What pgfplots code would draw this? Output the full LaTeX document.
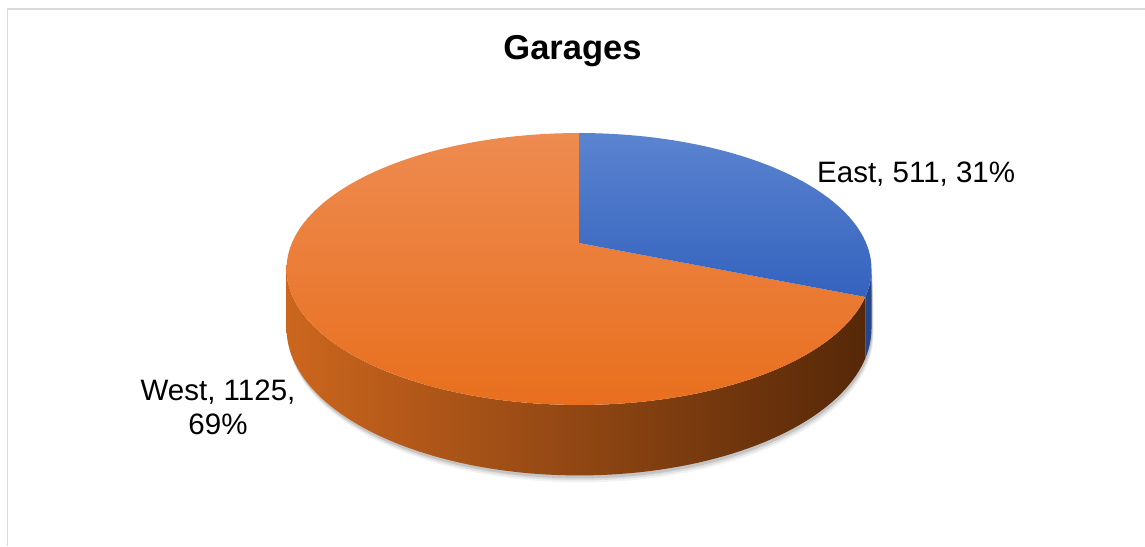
\documentclass[border=0pt]{standalone}
\usepackage{pgfplots}
\pgfplotsset{compat=1.18}
\usepackage{fontspec}
\setmainfont{Liberation Sans}
\definecolor{frame}{HTML}{D9D9D9}
\definecolor{wTopA}{HTML}{EE8B50}
\definecolor{wTopB}{HTML}{E86F1E}
\definecolor{eTopA}{HTML}{5B84D0}
\definecolor{eTopB}{HTML}{3462BE}
\definecolor{wSideL}{HTML}{CC661E}
\definecolor{wSideM}{HTML}{7E3F10}
\definecolor{wSideR}{HTML}{562808}
\definecolor{eSide}{HTML}{25468A}
% data
\def\EastVal{511}
\def\WestVal{1125}
\pgfmathsetmacro{\thE}{360*(\EastVal/(\EastVal+\WestVal))}
\pgfmathsetmacro{\kp}{0.1912}
\pgfmathsetmacro{\thT}{acos(-\kp)}
\pgfmathsetmacro{\thTT}{360-\thT}
\begin{document}
\begin{tikzpicture}[declare function={
    pw(\t)=1+0.1912*cos(\t);
    px(\t)=579+287.1*sin(\t)/pw(\t);
    py(\t)=243-131*cos(\t)/pw(\t);
    pd(\t)=57/pw(\t);
  }]
\begin{axis}[scale only axis, width=1145pt, height=546pt,
  xmin=0, xmax=1145, ymin=0, ymax=546, y dir=reverse,
  hide axis, clip=false]
% frame
\draw[frame, line width=1.5pt] (7.5,546) -- (7.5,9) -- (1145,9);
% shadow
\fill[black, opacity=0.05] plot[domain=\thT:\thTT, samples=90, variable=\t] ({px(\t)+2},{py(\t)+pd(\t)+7})
   -- plot[domain=\thTT:\thT, samples=90, variable=\t] ({px(\t)+2},{py(\t)+7}) -- cycle;
\fill[black, opacity=0.08] plot[domain=\thT:\thTT, samples=90, variable=\t] ({px(\t)+1.5},{py(\t)+pd(\t)+5})
   -- plot[domain=\thTT:\thT, samples=90, variable=\t] ({px(\t)+1.5},{py(\t)+5}) -- cycle;
\fill[black, opacity=0.12] plot[domain=\thT:\thTT, samples=90, variable=\t] ({px(\t)+1},{py(\t)+pd(\t)+3})
   -- plot[domain=\thTT:\thT, samples=90, variable=\t] ({px(\t)+1},{py(\t)+3}) -- cycle;
% sides
\shade[left color=wSideL, middle color=wSideM, right color=wSideR]
  plot[domain=\thE:\thTT, samples=90, variable=\t] ({px(\t)},{py(\t)})
  -- plot[domain=\thTT:\thE, samples=90, variable=\t] ({px(\t)},{py(\t)+pd(\t)}) -- cycle;
\fill[eSide]
  plot[domain=\thT:\thE, samples=20, variable=\t] ({px(\t)},{py(\t)})
  -- plot[domain=\thE:\thT, samples=20, variable=\t] ({px(\t)},{py(\t)+pd(\t)}) -- cycle;
% top faces
\shade[top color=wTopA, bottom color=wTopB]
  (579,243) -- plot[domain=\thE:360, samples=120, variable=\t] ({px(\t)},{py(\t)}) -- cycle;
\shade[top color=eTopA, bottom color=eTopB]
  (579,243) -- plot[domain=0:\thE, samples=60, variable=\t] ({px(\t)},{py(\t)}) -- cycle;
% texts
\node[anchor=base, font=\fontsize{34.5}{40}\selectfont\bfseries] at (572.5,59) {Garages};
\node[anchor=base west, font=\fontsize{29.5}{34}\selectfont, inner sep=0pt] at (817,182) {East, 511, 31\%};
\node[anchor=base, font=\fontsize{29.5}{34}\selectfont, inner sep=0pt] at (218,400) {West, 1125,};
\node[anchor=base, font=\fontsize{29.5}{34}\selectfont, inner sep=0pt] at (218,434) {69\%};
\end{axis}
\pgfresetboundingbox
\useasboundingbox (current axis.south west) rectangle (current axis.north east);
\end{tikzpicture}
\end{document}
